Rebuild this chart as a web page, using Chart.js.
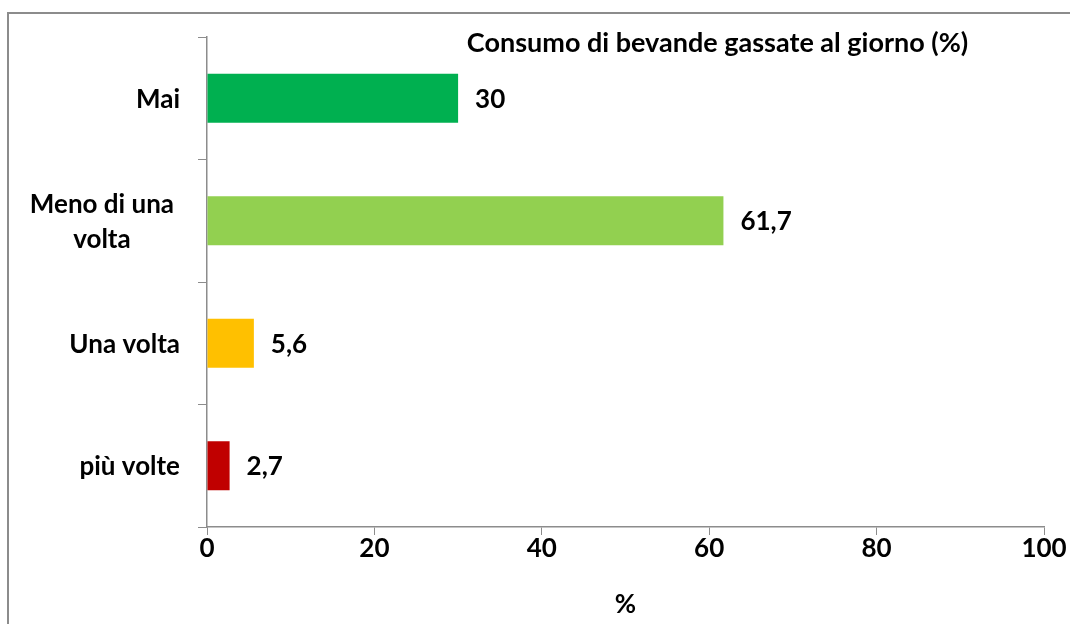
<!DOCTYPE html>
<html>
<head>
<meta charset="utf-8">
<script src="https://cdn.jsdelivr.net/npm/chart.js@4.4.0/dist/chart.umd.min.js"></script>
<style>
	html, body { margin: 0; padding: 0; background: #fff; overflow: hidden; }
	#wrap { position: relative; width: 1070px; height: 624px; }
	#frame {
		position: absolute; left: 7px; top: 12px; width: 1200px; height: 800px;
		border: 2px solid #8c8c8c; box-sizing: border-box;
	}
	#chart { position: absolute; left: 0; top: 0; }
</style>
</head>
<body>
<div id="wrap">
	<div id="frame"></div>
	<canvas id="chart" width="1070" height="624"></canvas>
</div>
<script>
const categories = ["Mai", ["Meno di una", "volta"], "Una volta", "più volte"]
const values = [30, 61.7, 5.6, 2.7]
const barColors = ["#00b050", "#92d050", "#ffc000", "#c00000"]
const xTicks = [0, 20, 40, 60, 80, 100]
const chartTitle = "Consumo di bevande gassate al giorno (%)"
const xTitle = "%"

const FONT = "Lato, 'Liberation Sans', sans-serif"
const FONT_SIZE = 26
const AXIS_GREY = "#8c8c8c"

// value labels next to each bar, with a comma as decimal mark
const valueLabels = {
	id: "valueLabels",
	afterDatasetsDraw(chart) {
		const ctx = chart.ctx
		const meta = chart.getDatasetMeta(0)
		ctx.save()
		ctx.font = "bold " + FONT_SIZE + "px " + FONT
		ctx.fillStyle = "#000"
		ctx.textAlign = "left"
		ctx.textBaseline = "middle"
		meta.data.forEach((bar, i) => {
			const txt = String(values[i]).replace(".", ",")
			ctx.fillText(txt, bar.x + 17, bar.y + 1)
		})
		ctx.restore()
	},
}

// category labels: block right-aligned to the axis, lines centred inside the block
const categoryLabels = {
	id: "categoryLabels",
	afterDraw(chart) {
		const ctx = chart.ctx
		const scale = chart.scales.y
		const lineH = 35
		ctx.save()
		ctx.font = "bold " + FONT_SIZE + "px " + FONT
		ctx.fillStyle = "#000"
		ctx.textAlign = "center"
		ctx.textBaseline = "middle"
		categories.forEach((label, i) => {
			const lines = Array.isArray(label) ? label : [label]
			const widest = Math.max(...lines.map((l) => ctx.measureText(l).width))
			const right = scale.right - (lines.length > 1 ? 33 : 27)
			const cx = right - widest / 2
			const cy = scale.getPixelForTick(i)
			lines.forEach((l, j) => {
				ctx.fillText(l, cx, cy + (j - (lines.length - 1) / 2) * lineH + 1)
			})
		})
		ctx.restore()
	},
}

// title sits inside the top of the plot, right of centre
const titleText = {
	id: "titleText",
	afterDraw(chart) {
		const ctx = chart.ctx
		const area = chart.chartArea
		ctx.save()
		ctx.font = "bold 27px " + FONT
		ctx.fillStyle = "#000"
		ctx.textAlign = "center"
		ctx.textBaseline = "middle"
		ctx.fillText(chartTitle, area.left + (area.right - area.left) * 0.61, 43)
		ctx.restore()
	},
}

new Chart(document.getElementById("chart").getContext("2d"), {
	type: "bar",
	data: {
		labels: categories,
		datasets: [
			{
				data: values,
				backgroundColor: barColors,
				borderWidth: 0,
				barPercentage: 0.4,
				categoryPercentage: 1,
			},
		],
	},
	options: {
		indexAxis: "y",
		responsive: false,
		animation: false,
		events: [],
		layout: { padding: { left: 0, right: 26, top: 37, bottom: 0 } },
		plugins: {
			legend: { display: false },
			title: { display: false },
			tooltip: { enabled: false },
		},
		scales: {
			x: {
				min: 0,
				max: 100,
				afterBuildTicks(scale) {
					scale.ticks = xTicks.map((v) => ({ value: v }))
				},
				afterFit(scale) {
					scale.height = 97
				},
				grid: {
					drawOnChartArea: false,
					drawTicks: true,
					tickLength: 8,
					color: AXIS_GREY,
				},
				border: { color: AXIS_GREY, width: 1.5 },
				ticks: {
					color: "#000",
					font: { family: FONT, size: FONT_SIZE, weight: "bold" },
					padding: -2,
					maxRotation: 0,
				},
				title: {
					display: true,
					text: xTitle,
					color: "#000",
					font: { family: FONT, size: FONT_SIZE, weight: "bold" },
					padding: { top: 12 },
				},
			},
			y: {
				afterFit(scale) {
					scale.width = 207
				},
				grid: {
					offset: true,
					drawOnChartArea: false,
					drawTicks: true,
					tickLength: 9,
					color: AXIS_GREY,
				},
				border: { color: AXIS_GREY, width: 1.5 },
				ticks: { display: false },
			},
		},
	},
	plugins: [valueLabels, categoryLabels, titleText],
})
</script>
</body>
</html>
